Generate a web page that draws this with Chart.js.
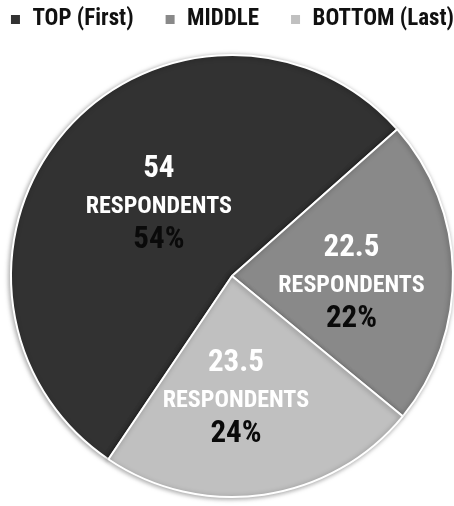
<!DOCTYPE html>
<html>
<head>
<meta charset="utf-8">
<script src="https://cdn.jsdelivr.net/npm/chart.js@4/dist/chart.umd.min.js"></script>
<style>
  html, body { margin: 0; padding: 0; background: #fff; overflow: hidden; }
  /* canvas runs a little past the page edges so the legend row fits on one line */
  #wrap { width: 520px; height: 511px; margin-left: -28px; }
</style>
</head>
<body>
<div id="wrap"><canvas id="rank_canvas"></canvas></div>
<script>
// rank split

const rankLabels = ["TOP (First)", "MIDDLE", "BOTTOM (Last)"];
const respondents = [54, 22.5, 23.5];
const sliceColors = ["#323232", "#898989", "#c0c0c0"];

const FONT = '"Roboto Condensed", "DejaVu Sans Condensed", sans-serif';

// excel style rounding (half to even) for the % line
function roundEven(v) {
  const f = Math.floor(v);
  const d = v - f;
  if (Math.abs(d - 0.5) < 1e-9) return f % 2 === 0 ? f : f + 1;
  return Math.round(v);
}

// small nudges so the text sits where excel put it
const labelNudge = [[10, 4], [9, 12], [-12, 16]];

const sliceText = {
  id: 'sliceText',
  afterDatasetsDraw(chart) {
    const ctx = chart.ctx;
    const meta = chart.getDatasetMeta(0);
    const data = chart.data.datasets[0].data;
    const total = data.reduce((a, b) => a + b, 0);
    ctx.save();
    ctx.textAlign = 'center';
    ctx.textBaseline = 'middle';
    meta.data.forEach((arc, i) => {
      const p = arc.getCenterPoint();
      const x = p.x + labelNudge[i][0];
      const y = p.y + labelNudge[i][1];
      ctx.fillStyle = '#ffffff';
      ctx.font = 'bold 31px ' + FONT;
      ctx.fillText(String(data[i]), x, y - 38);
      ctx.font = 'bold 24px ' + FONT;
      ctx.fillText('RESPONDENTS', x, y);
      ctx.fillStyle = '#0a0a0a';
      ctx.font = 'bold 31px ' + FONT;
      ctx.fillText(roundEven(data[i] / total * 100) + '%', x, y + 33);
    });
    ctx.restore();
  }
};

// soft shadow under the pie
const pieShadow = {
  id: 'pieShadow',
  beforeDatasetsDraw(chart) {
    const ctx = chart.ctx;
    ctx.save();
    ctx.shadowColor = 'rgba(0,0,0,0.35)';
    ctx.shadowBlur = 5;
    ctx.shadowOffsetX = -1;
    ctx.shadowOffsetY = 1;
  },
  afterDatasetsDraw(chart) {
    chart.ctx.restore();
  }
};

const rank_ctx = document.getElementById('rank_canvas').getContext('2d');
const rank_chart = new Chart(rank_ctx, {
  type: 'pie',
  data: {
    labels: rankLabels,
    datasets: [
      {
        data: respondents,
        backgroundColor: sliceColors,
        borderColor: '#ffffff',
        borderWidth: 2,
      },
    ],
  },
  plugins: [pieShadow, sliceText],
  options: {
    responsive: true,
    maintainAspectRatio: false,
    animation: false,
    rotation: -146,
    radius: 221,
    layout: {
      padding: { top: -23, bottom: 0, left: 0, right: 0 }
    },
    plugins: {
      legend: {
        position: 'top',
        labels: {
          boxWidth: 11,
          boxHeight: 11,
          padding: 31,
          color: '#111111',
          font: { family: FONT, size: 23, weight: 'bold' },
        }
      },
      tooltip: { enabled: false }
    }
  }
});
</script>
</body>
</html>
